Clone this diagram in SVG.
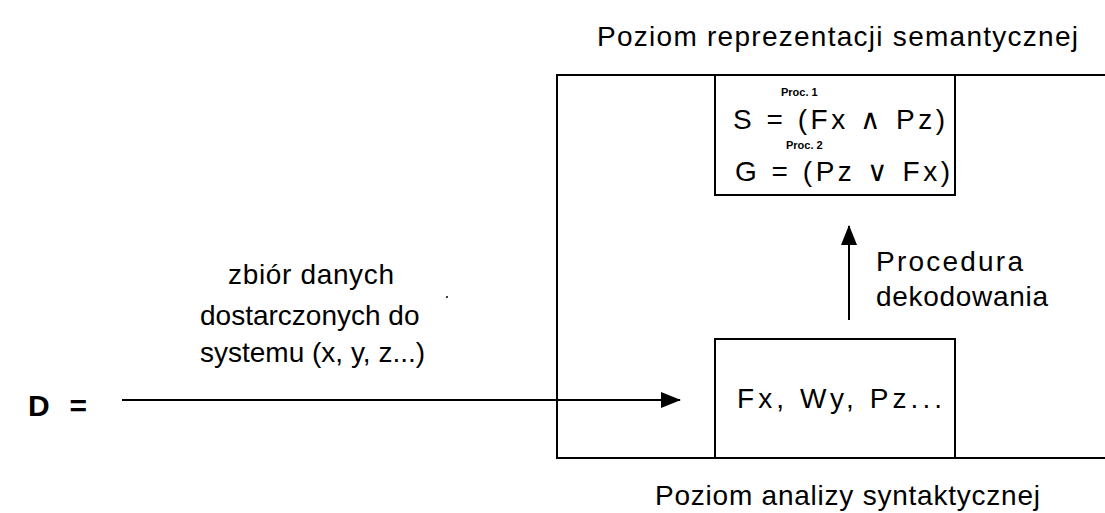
<svg xmlns="http://www.w3.org/2000/svg" width="1105" height="513" viewBox="0 0 1105 513">
  <style>
    .t { font-family: "Liberation Sans", Arial, sans-serif; fill: #000; }
    .m { font-size: 28px; }
    .s { font-size: 11px; font-weight: bold; }
    .box { fill: none; stroke: #000; stroke-width: 2; }
    .ln { stroke: #000; stroke-width: 2; fill: none; }
  </style>
  <defs>
    <marker id="ah2" markerWidth="20" markerHeight="16" refX="19" refY="8" orient="auto" markerUnits="userSpaceOnUse">
      <path d="M0,0 L20,8 L0,16 Z" fill="#000"/>
    </marker>
  </defs>
  <rect width="1105" height="513" fill="#fff"/>

  <g id="outer">
    <rect class="box" x="557" y="75" width="560" height="383"/>
    <text class="t m" x="597" y="46" textLength="481" lengthAdjust="spacing">Poziom reprezentacji semantycznej</text>
    <text class="t m" x="655" y="505" textLength="385" lengthAdjust="spacing">Poziom analizy syntaktycznej</text>
  </g>

  <g id="semantic">
    <rect class="box" x="715" y="75" width="240" height="120"/>
    <text class="t s" x="781" y="96">Proc. 1</text>
    <text class="t m" x="733" y="129" textLength="212" lengthAdjust="spacing">S  =  (Fx ∧ Pz)</text>
    <text class="t s" x="786" y="149">Proc. 2</text>
    <text class="t m" x="735" y="181" textLength="215" lengthAdjust="spacing">G  =  (Pz ∨ Fx)</text>
  </g>

  <g id="syntactic">
    <rect class="box" x="715" y="339" width="240" height="119"/>
    <text class="t m" x="737" y="408" textLength="205" lengthAdjust="spacing">Fx, Wy, Pz...</text>
  </g>

  <g id="input">
    <text class="t" x="28" y="416" font-size="30" font-weight="bold" textLength="59" lengthAdjust="spacing">D =</text>
    <text class="t m" x="228" y="284" textLength="166" lengthAdjust="spacing">zbiór danych</text>
    <text class="t m" x="200" y="325">dostarczonych do</text>
    <text class="t m" x="200" y="362">systemu (x, y, z...)</text>
    <circle cx="447" cy="297" r="1" fill="#000"/>
  </g>

  <g id="connectors">
    <line class="ln" x1="122" y1="400" x2="680" y2="400" marker-end="url(#ah2)"/>
    <line class="ln" x1="849" y1="320" x2="849" y2="226" marker-end="url(#ah2)"/>
    <text class="t m" x="876" y="271" textLength="147" lengthAdjust="spacing">Procedura</text>
    <text class="t m" x="876" y="306" textLength="172" lengthAdjust="spacing">dekodowania</text>
  </g>
</svg>
